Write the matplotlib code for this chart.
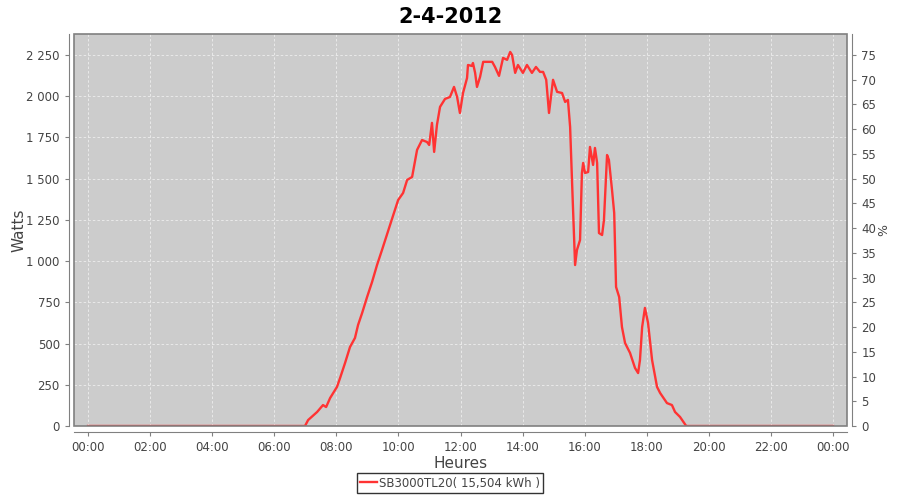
import matplotlib.pyplot as plt
from matplotlib.patches import Rectangle
from matplotlib.ticker import FuncFormatter, MultipleLocator

# Production of 2-4-2012, time in decimal hours, power in watts
hours = [0.0, 6.99, 7.09, 7.38, 7.57, 7.67, 7.80, 8.02, 8.12, 8.28, 8.44, 8.60,
         8.70, 8.83, 8.99, 9.15, 9.31, 9.47, 9.73, 9.99, 10.15, 10.28, 10.44,
         10.60, 10.76, 10.92, 10.99, 11.08, 11.15, 11.24, 11.34, 11.50, 11.66,
         11.79, 11.89, 11.98, 12.08, 12.21, 12.24, 12.37, 12.40, 12.47, 12.53,
         12.63, 12.73, 12.85, 13.02, 13.11, 13.24, 13.37, 13.50, 13.60, 13.66,
         13.76, 13.85, 14.01, 14.14, 14.30, 14.43, 14.56, 14.66, 14.76, 14.85,
         14.98, 15.11, 15.27, 15.37, 15.46, 15.53, 15.59, 15.69, 15.75, 15.85,
         15.91, 15.95, 16.01, 16.11, 16.17, 16.27, 16.33, 16.40, 16.46, 16.56,
         16.62, 16.72, 16.78, 16.88, 16.95, 17.01, 17.11, 17.20, 17.30, 17.46,
         17.62, 17.72, 17.78, 17.85, 17.94, 18.04, 18.17, 18.33, 18.43, 18.65,
         18.81, 18.91, 19.07, 19.27, 24.0]
watts = [0, 0, 36, 85, 127, 115, 170, 237, 291, 382, 479, 534,
         613, 685, 782, 873, 976, 1067, 1219, 1370, 1413, 1492, 1510,
         1674, 1734, 1722, 1704, 1838, 1662, 1825, 1935, 1983, 1995,
         2056, 1995, 1898, 2019, 2110, 2189, 2183, 2201, 2141, 2056,
         2117, 2208, 2208, 2208, 2177, 2123, 2232, 2220, 2268, 2250,
         2141, 2189, 2141, 2189, 2141, 2177, 2147, 2147, 2099, 1898,
         2099, 2026, 2019, 1965, 1977, 1813, 1492, 976, 1067, 1128,
         1534, 1595, 1534, 1540, 1692, 1583, 1686, 1595, 1170, 1158,
         1249, 1643, 1613, 1431, 1292, 843, 782, 600, 503, 443,
         352, 321, 400, 600, 716, 625, 400, 237, 200, 139,
         127, 85, 55, 0, 0]

x_ticks = list(range(0, 25, 2))
x_tick_labels = [f"{h % 24:02d}:00" for h in x_ticks]

title = "2-4-2012"
series_label = "SB3000TL20( 15,504 kWh )"

grey = "#808080"
text_col = "#444444"

fig = plt.figure(figsize=(9, 5), dpi=100)
ax = fig.add_axes([0.0826, 0.148, 0.8582, 0.7834])
ax.set_facecolor("#cccccc")

line, = ax.plot(hours, watts, color="#ff3333", lw=1.7, zorder=3)

ax.set_xlim(-0.44, 24.44)
ax.set_ylim(0, 2375)
ax.set_xticks(x_ticks)
ax.set_xticklabels(x_tick_labels)
ax.yaxis.set_major_locator(MultipleLocator(250))
ax.yaxis.set_major_formatter(FuncFormatter(lambda v, p: f"{int(v):,}".replace(",", " ")))
ax.grid(True, color="#eeeeee", ls=(0, (3, 2.5)), lw=0.6)
ax.set_axisbelow(True)

# plot box, axis lines set out a little
ax.add_patch(Rectangle((0, 0), 1, 1, transform=ax.transAxes, fill=False,
                       edgecolor=grey, lw=1.2, clip_on=False, zorder=4))
for s in ["top", "right"]:
    ax.spines[s].set_visible(False)
for s in ["left", "bottom"]:
    ax.spines[s].set_position(("outward", 4))
    ax.spines[s].set_color(grey)
ax.tick_params(colors=grey, labelcolor=text_col, labelsize=8.5, length=3)

ax2 = ax.twinx()
ax2.set_ylim(0, 2375 / 30)
ax2.yaxis.set_major_locator(MultipleLocator(5))
for s in ["top", "left", "bottom"]:
    ax2.spines[s].set_visible(False)
ax2.spines["right"].set_position(("outward", 4))
ax2.spines["right"].set_color(grey)
ax2.tick_params(colors=grey, labelcolor=text_col, labelsize=8.5, length=3)

ax.set_xlabel("Heures", fontsize=11, color=text_col, labelpad=2)
ax.set_ylabel("Watts", fontsize=11, color=text_col, labelpad=0)
ax2.set_ylabel("%", fontsize=9, color=text_col, labelpad=1)

fig.suptitle(title, fontsize=15, fontweight="bold", y=0.986)

fig.legend([line], [series_label], loc="lower center", bbox_to_anchor=(0.5, 0.002),
           fontsize=8.5, frameon=True, fancybox=False, edgecolor="black",
           handlelength=1.4, handletextpad=0.2, borderpad=0.3,
           labelcolor=text_col)

fig.savefig("out.png", dpi=100)
